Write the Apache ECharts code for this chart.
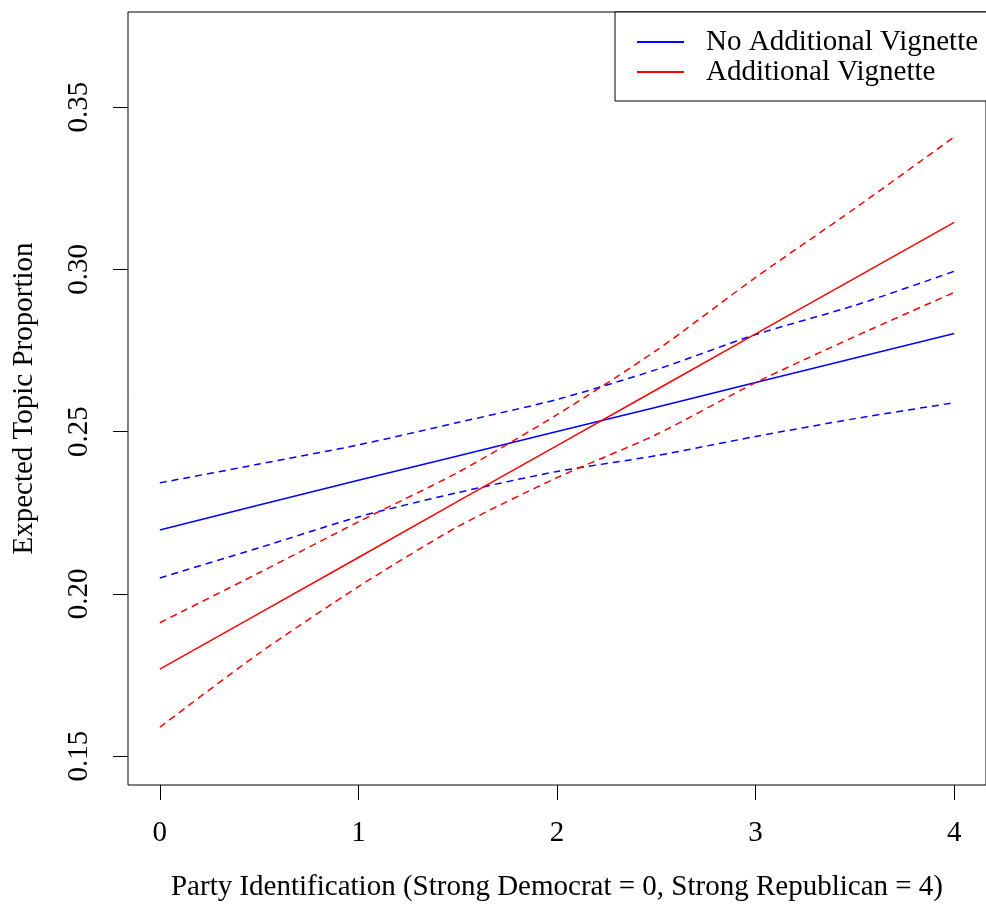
<!DOCTYPE html>
<html><head><meta charset="utf-8">
<script src="https://cdn.jsdelivr.net/npm/echarts@6/dist/echarts.min.js"></script>
<style>html,body{margin:0;padding:0;background:#fff}#c{width:986px;height:909px}</style>
</head><body><div id="c"></div>
<script>
// Party identification values (x)
const partyId = [0, 0.5, 1, 1.5, 2, 2.5, 3, 3.5, 4];
// No Additional Vignette (blue)
const noVigMean  = [0.2197, 0.2274, 0.2350, 0.2425, 0.2500, 0.2575, 0.2651, 0.2727, 0.2802];
const noVigUpper = [0.2342, 0.2400, 0.2459, 0.2528, 0.2599, 0.2691, 0.2799, 0.2889, 0.2994];
const noVigLower = [0.2049, 0.2142, 0.2237, 0.2312, 0.2377, 0.2426, 0.2485, 0.2540, 0.2589];
// Additional Vignette (red)
const vigMean  = [0.1768, 0.1940, 0.2112, 0.2285, 0.2457, 0.2629, 0.2801, 0.2973, 0.3145];
const vigUpper = [0.1911, 0.2065, 0.2222, 0.2374, 0.2552, 0.2750, 0.2975, 0.3188, 0.3408];
const vigLower = [0.1589, 0.1817, 0.2022, 0.2207, 0.2358, 0.2491, 0.2651, 0.2793, 0.2929];
// Tick values
const xTicks = [0, 1, 2, 3, 4];
const yTicks = [0.15, 0.20, 0.25, 0.30, 0.35];
const legendNames = ['No Additional Vignette', 'Additional Vignette'];
const xTitle = 'Party Identification (Strong Democrat = 0, Strong Republican = 4)';
const yTitle = 'Expected Topic Proportion';

const pair = arr => partyId.map((x, i) => [x, arr[i]]);
const FONT = 'Liberation Serif';

function mk(name, arr, color, dashed) {
  return {
    name: name, type: 'line', data: pair(arr), symbol: 'none', showSymbol: false,
    smooth: dashed ? 0.25 : false, silent: true, animation: false,
    lineStyle: { color: color, width: 1.5, type: dashed ? [7, 5] : 'solid' },
    itemStyle: { color: color }
  };
}

const chart = echarts.init(document.getElementById('c'), null, { renderer: 'canvas' });
chart.setOption({
  backgroundColor: '#fff',
  animation: false,
  grid: { left: 128, top: 12, width: 862, height: 773, show: true, borderColor: '#000', borderWidth: 1, backgroundColor: 'transparent' },
  xAxis: {
    type: 'value', min: -0.16, max: 4.16,
    axisLine: { show: false, onZero: false },
    axisTick: { show: true, inside: false, length: 15, customValues: xTicks, lineStyle: { color: '#000', width: 1 } },
    axisLabel: { customValues: xTicks, fontFamily: FONT, fontSize: 29, color: '#000', margin: 34 },
    splitLine: { show: false },
    name: xTitle, nameLocation: 'middle', nameGap: 88,
    nameTextStyle: { fontFamily: FONT, fontSize: 29, color: '#000' }
  },
  yAxis: {
    type: 'value', min: 0.1411, max: 0.3793,
    axisLine: { show: false, onZero: false },
    axisTick: { show: true, inside: false, length: 15, customValues: yTicks, lineStyle: { color: '#000', width: 1 } },
    axisLabel: { customValues: yTicks, rotate: 90, fontFamily: FONT, fontSize: 29, color: '#000', margin: 34,
      formatter: v => v.toFixed(2) },
    splitLine: { show: false },
    name: yTitle, nameLocation: 'middle', nameRotate: 90, nameGap: 89,
    nameTextStyle: { fontFamily: FONT, fontSize: 29, color: '#000' }
  },
  legend: {
    data: legendNames, orient: 'vertical', left: 615, top: 12,
    icon: 'rect', itemWidth: 47, itemHeight: 2, itemGap: 0,
    padding: [15, 40, 14, 22],
    borderColor: '#000', borderWidth: 1, backgroundColor: '#fff',
    selectedMode: false,
    textStyle: { fontFamily: FONT, fontSize: 29, color: '#000', lineHeight: 30, padding: [0, 0, 0, 17] }
  },
  series: [
    mk(legendNames[0], noVigMean, '#0000ff', false),
    mk('noVigUpper', noVigUpper, '#0000ff', true),
    mk('noVigLower', noVigLower, '#0000ff', true),
    mk(legendNames[1], vigMean, '#ff0000', false),
    mk('vigUpper', vigUpper, '#ff0000', true),
    mk('vigLower', vigLower, '#ff0000', true)
  ]
});
</script>
</body></html>
